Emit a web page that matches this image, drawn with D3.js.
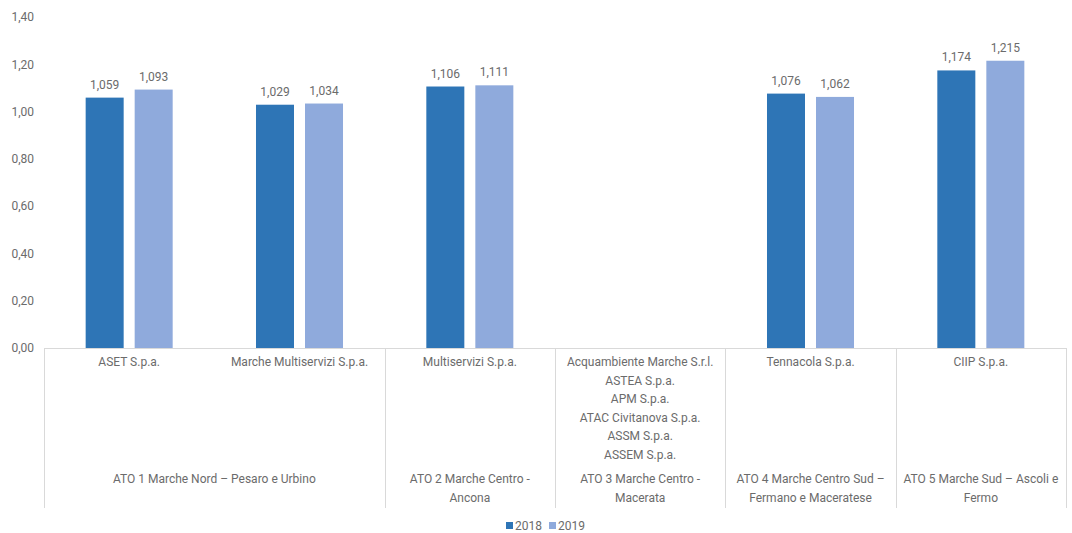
<!DOCTYPE html>
<html>
<head>
<meta charset="utf-8">
<script src="https://cdn.jsdelivr.net/npm/d3@7.9.0/dist/d3.min.js"></script>
<style>
  body { margin: 0; background: #fff; }
  svg { display: block; font-family: Roboto, "Noto Sans", sans-serif; }
  text { fill: #6b6b6b; font-size: 12px; }
</style>
</head>
<body>
<svg id="chart" width="1072" height="533"></svg>
<script>
// data
const companies = [
  ["ASET S.p.a."],
  ["Marche Multiservizi S.p.a."],
  ["Multiservizi S.p.a."],
  ["Acquambiente Marche S.r.l.", "ASTEA S.p.a.", "APM S.p.a.", "ATAC Civitanova S.p.a.", "ASSM S.p.a.", "ASSEM S.p.a."],
  ["Tennacola S.p.a."],
  ["CIIP S.p.a."]
];
const atoLabels = [
  ["ATO 1 Marche Nord – Pesaro e Urbino"],
  ["ATO 2 Marche Centro -", "Ancona"],
  ["ATO 3 Marche Centro -", "Macerata"],
  ["ATO 4 Marche Centro Sud –", "Fermano e Maceratese"],
  ["ATO 5 Marche Sud – Ascoli e", "Fermo"]
];
const atoOfCompany = [0, 0, 1, 2, 3, 4];
const years = ["2018", "2019"];
const values2018 = [1.059, 1.029, 1.106, null, 1.076, 1.174];
const values2019 = [1.093, 1.034, 1.111, null, 1.062, 1.215];
const yTicks = [0, 0.2, 0.4, 0.6, 0.8, 1.0, 1.2, 1.4];
const colors = ["#2e75b6", "#8faadc"];

const it = d3.formatLocale({ decimal: ",", thousands: ".", grouping: [3], currency: ["€", ""] });
const fmtAxis = it.format(".2f");
const fmtVal = it.format(".3f");

const svg = d3.select("#chart");
const plotLeft = 44, plotRight = 1066, plotTop = 17, base = 348, plotBottom = 508;

const x = d3.scaleBand().domain(d3.range(companies.length)).range([plotLeft, plotRight]).padding(0);
const xs = d3.scaleBand().domain(years).range([0, x.bandwidth()]).paddingInner(0.2245).paddingOuter(0.85);
const y = d3.scaleLinear().domain([0, 1.4]).range([base, plotTop]);

// y axis
const yAxis = svg.append("g")
  .attr("transform", `translate(${plotLeft},0)`)
  .call(d3.axisLeft(y).tickValues(yTicks).tickSize(0).tickPadding(10).tickFormat(fmtAxis));
yAxis.select(".domain").remove();
yAxis.selectAll("text").attr("fill", "#6b6b6b").style("font-size", "12px").style("font-family", "Roboto, sans-serif");

// bars
const series = [values2018, values2019];
companies.forEach((c, i) => {
  const g = svg.append("g").attr("transform", `translate(${x(i)},0)`);
  years.forEach((yr, k) => {
    const v = series[k][i];
    if (v == null) return;
    g.append("rect")
      .attr("x", xs(yr))
      .attr("y", y(v))
      .attr("width", xs.bandwidth())
      .attr("height", base - y(v))
      .attr("fill", colors[k]);
    g.append("text")
      .attr("x", xs(yr) + xs.bandwidth() / 2)
      .attr("y", y(v) - 9)
      .attr("text-anchor", "middle")
      .text(fmtVal(v));
  });
});

// category axis
const lineColor = "#d9d9d9";
svg.append("line").attr("x1", plotLeft).attr("x2", plotRight).attr("y1", base + 0.5).attr("y2", base + 0.5)
  .attr("stroke", lineColor);

// separators between ATO groups
const groupStarts = atoLabels.map((_, a) => atoOfCompany.indexOf(a));
const sepX = groupStarts.map(i => x(i)).concat([plotRight]);
sepX.forEach(sx => {
  svg.append("line")
    .attr("x1", Math.round(sx) + 0.5).attr("x2", Math.round(sx) + 0.5)
    .attr("y1", base).attr("y2", plotBottom)
    .attr("stroke", lineColor);
});

// company labels
companies.forEach((lines, i) => {
  const t = svg.append("text")
    .attr("text-anchor", "middle")
    .attr("x", x(i) + x.bandwidth() / 2)
    .attr("y", 366);
  lines.forEach((ln, j) => {
    t.append("tspan").attr("x", x(i) + x.bandwidth() / 2).attr("dy", j ? 18.6 : 0).text(ln);
  });
});

// ATO labels
atoLabels.forEach((lines, a) => {
  const members = d3.range(companies.length).filter(i => atoOfCompany[i] === a);
  const cx = (x(members[0]) + x(members[members.length - 1]) + x.bandwidth()) / 2;
  const t = svg.append("text").attr("text-anchor", "middle").attr("x", cx).attr("y", 483);
  lines.forEach((ln, j) => {
    t.append("tspan").attr("x", cx).attr("dy", j ? 18.6 : 0).text(ln);
  });
});

// legend
const legend = svg.append("g").attr("transform", "translate(506,530)");
years.forEach((yr, k) => {
  const lg = legend.append("g").attr("transform", `translate(${k * 43},0)`);
  lg.append("rect").attr("x", 0).attr("y", -8).attr("width", 7).attr("height", 7).attr("fill", colors[k]);
  lg.append("text").attr("x", 9).attr("y", 0).text(yr);
});
</script>
</body>
</html>
